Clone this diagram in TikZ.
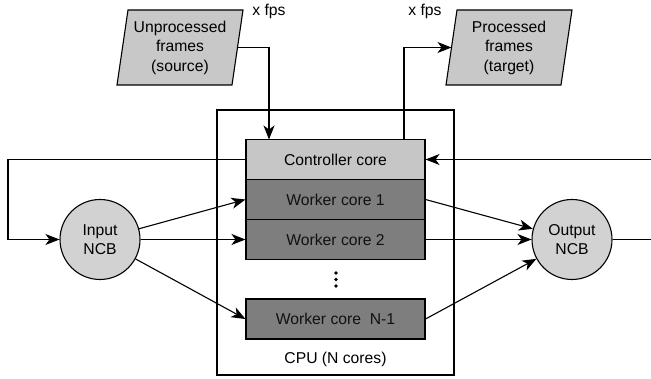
\documentclass[tikz,border=0pt]{standalone}
\usepackage{fontspec}
\setmainfont{Liberation Sans}
\usetikzlibrary{arrows.meta}
\definecolor{framefill}{HTML}{C8C8C8}
\definecolor{ctrlfill}{HTML}{C6C6C6}
\definecolor{workfill}{HTML}{7E7E7E}
\definecolor{ncbfill}{HTML}{D2D2D2}
\definecolor{inktext}{HTML}{111111}
\tikzset{
  core/.style={draw, rectangle, minimum width=179pt, minimum height=40pt, inner sep=0pt},
  ctrlcore/.style={core, fill=ctrlfill},
  workcore/.style={core, fill=workfill, text=inktext},
  ncb/.style={draw, circle, fill=ncbfill, minimum size=80pt, inner sep=0pt, align=center},
  frameset/.style={draw, fill=framefill},
  flow/.style={->},
}
\begin{document}
\begin{tikzpicture}[x=1pt, y=-1pt, line width=1.1pt,
  font=\fontsize{15.7}{19.5}\selectfont,
  >={Stealth[length=14pt, width=11pt, inset=4pt]}]
  \useasboundingbox (0,0) rectangle (651,379);

  % CPU enclosure
  \draw (217,110) rectangle (454,375);
  \node (cpu) at (335.5,359) {CPU (N cores)};

  % cores
  \node[ctrlcore] (ctrl) at (335.5,159.5) {Controller core};
  \node[workcore] (w1) at (335.5,199.5) {Worker core 1};
  \node[workcore] (w2) at (335.5,239.5) {Worker core 2};
  \node[workcore] (wn) at (335.5,319) {Worker core\ \ N-1};
  \foreach \yy in {273,279.5,286} \fill (336,\yy) circle (1.8pt);

  % network channel buffers
  \node[ncb] (in) at (100,239.5) {Input\\NCB};
  \node[ncb] (out) at (572,239.5) {Output\\NCB};

  % frame source and target
  \draw[frameset] (117,85) -- (128,10) -- (243,10) -- (232,85) -- cycle;
  \node[align=center] (src) at (180,47.5) {Unprocessed\\frames\\(source)};
  \coordinate (srcout) at (237.5,47.5);
  \draw[frameset] (446,85) -- (457,10) -- (572,10) -- (561,85) -- cycle;
  \node[align=center] (tgt) at (509,47.5) {Processed\\frames\\(target)};
  \coordinate (tgtin) at (451.5,47.5);

  \node (fpsin) at (269,11) {x fps};
  \node (fpsout) at (425,11) {x fps};

  % controller links
  \coordinate (ctrlin) at (269,139.5);
  \coordinate (ctrlout) at (404,139.5);
  \draw[flow] (srcout) -| (ctrlin);
  \draw[flow] (ctrlout) |- (tgtin);

  % feedback loop
  \coordinate (loopl) at (8,159.5);
  \coordinate (rin) at (651,159.5);
  \coordinate (rout) at (651,239.5);
  \draw[flow] (ctrl.west) -- (loopl) |- (in.west);
  \draw (out.east) -- (rout);
  \draw[flow] (rin) -- (ctrl.east);

  % distribution to workers
  \draw[flow] (in) -- (w1.west);
  \draw[flow] (in.east) -- (w2.west);
  \draw[flow] (in) -- (wn.west);
  \draw[flow] (w1.east) -- (out);
  \draw[flow] (w2.east) -- (out.west);
  \draw[flow] (wn.east) -- (out);
\end{tikzpicture}
\end{document}
